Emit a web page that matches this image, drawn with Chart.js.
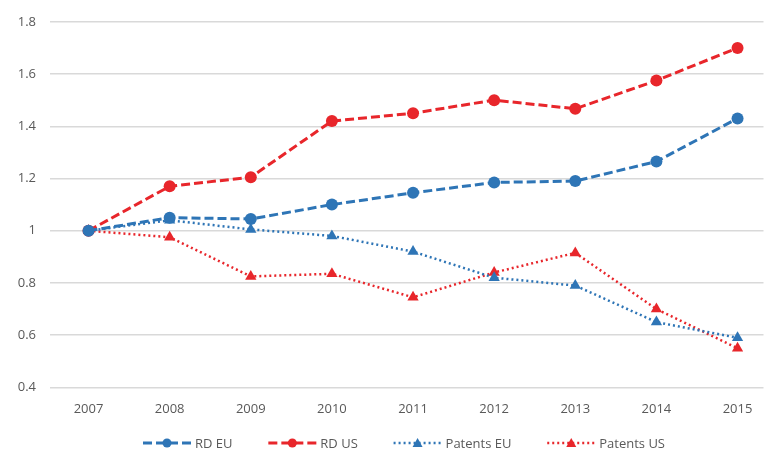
<!DOCTYPE html>
<html>
<head>
<meta charset="utf-8">
<script src="https://cdn.jsdelivr.net/npm/chart.js@4/dist/chart.umd.min.js"></script>
<style>
  html, body { margin: 0; padding: 0; background: #fff; }
  #wrap { width: 770px; height: 461px; }
</style>
</head>
<body>
<div id="wrap"><canvas id="chart"></canvas></div>
<script>
'use strict';

// ── Data ─────────────────────────────────────────────────────────────────────

const years      = [2007, 2008, 2009, 2010, 2011, 2012, 2013, 2014, 2015];
const rdEU       = [1.00, 1.05, 1.045, 1.10, 1.145, 1.185, 1.19, 1.265, 1.43];
const rdUS       = [1.00, 1.17, 1.205, 1.42, 1.45, 1.50, 1.467, 1.575, 1.70];
const patentsEU  = [1.00, 1.04, 1.005, 0.98, 0.92, 0.82, 0.79, 0.65, 0.59];
const patentsUS  = [1.00, 0.975, 0.825, 0.835, 0.745, 0.84, 0.915, 0.70, 0.55];

const BLUE = '#2e75b6';
const RED  = '#e8262b';
const FONT = "'Open Sans', 'Liberation Sans', sans-serif";

function pts(vals) {
  return years.map((y, i) => ({ x: y, y: vals[i] }));
}

function series(label, vals, color, dash, style, width) {
  return {
    label,
    data: pts(vals),
    borderColor: color,
    backgroundColor: color,
    borderWidth: width,
    borderDash: dash,
    pointStyle: style,
    pointRadius: style === 'circle' ? 6 : 6.5,
    pointBorderWidth: 0,
    tension: 0,
  };
}

// ── Legend (line + marker + text, Excel style) ───────────────────────────────

const legendPlugin = {
  id: 'excelLegend',
  afterDraw(chart) {
    const ctx = chart.ctx;
    const y = 443;
    const lineLen = 48, gapText = 4;
    const left = 143, span = 522;
    ctx.save();
    ctx.font = '13px ' + FONT;
    const items = chart.data.datasets.map(ds => ({ ds, w: lineLen + gapText + ctx.measureText(ds.label).width }));
    const used = items.reduce((s, it) => s + it.w, 0);
    const gapItem = (span - used) / (items.length - 1);
    let x = left;
    items.forEach(({ ds, w }) => {
      ctx.strokeStyle = ds.borderColor;
      ctx.lineWidth = ds.borderWidth;
      ctx.setLineDash(ds.borderDash);
      ctx.beginPath();
      ctx.moveTo(x, y);
      ctx.lineTo(x + lineLen, y);
      ctx.stroke();
      ctx.setLineDash([]);
      ctx.fillStyle = ds.borderColor;
      const cx = x + lineLen / 2;
      ctx.beginPath();
      if (ds.pointStyle === 'circle') {
        ctx.arc(cx, y, 4.5, 0, Math.PI * 2);
      } else {
        ctx.moveTo(cx, y - 5);
        ctx.lineTo(cx + 5, y + 4);
        ctx.lineTo(cx - 5, y + 4);
        ctx.closePath();
      }
      ctx.fill();
      ctx.fillStyle = '#595959';
      ctx.textBaseline = 'middle';
      ctx.textAlign = 'left';
      ctx.fillText(ds.label, x + lineLen + gapText, y + 1);
      x += w + gapItem;
    });
    ctx.restore();
  },
};

// ── Chart ────────────────────────────────────────────────────────────────────

new Chart(document.getElementById('chart'), {
  type: 'line',
  data: {
    datasets: [
      series('RD EU', rdEU, BLUE, [9, 4], 'circle', 3),
      series('RD US', rdUS, RED, [9, 4], 'circle', 3),
      series('Patents EU', patentsEU, BLUE, [2, 3], 'triangle', 2.5),
      series('Patents US', patentsUS, RED, [2, 3], 'triangle', 2.5),
    ],
  },
  options: {
    animation: false,
    responsive: true,
    maintainAspectRatio: false,
    layout: { padding: { top: 17, right: 0, bottom: 38, left: 0 } },
    scales: {
      x: {
        type: 'linear',
        min: 2006.525,
        max: 2015.32,
        afterBuildTicks(axis) {
          axis.ticks = years.map(v => ({ value: v }));
        },
        grid: { display: false },
        border: { display: false },
        ticks: {
          color: '#595959',
          font: { family: FONT, size: 13 },
          padding: 6,
          maxRotation: 0,
          callback: v => String(v),
        },
      },
      y: {
        min: 0.4,
        max: 1.8,
        afterFit(axis) { axis.width = 50; },
        grid: { color: '#d9d9d9', lineWidth: 1.5, drawTicks: false },
        border: { display: false },
        ticks: {
          stepSize: 0.2,
          color: '#595959',
          font: { family: FONT, size: 13 },
          padding: 14,
          callback: v => String(Math.round(v * 10) / 10),
        },
      },
    },
    plugins: {
      legend: { display: false },
      tooltip: { enabled: false },
    },
  },
  plugins: [legendPlugin],
});
</script>
</body>
</html>
